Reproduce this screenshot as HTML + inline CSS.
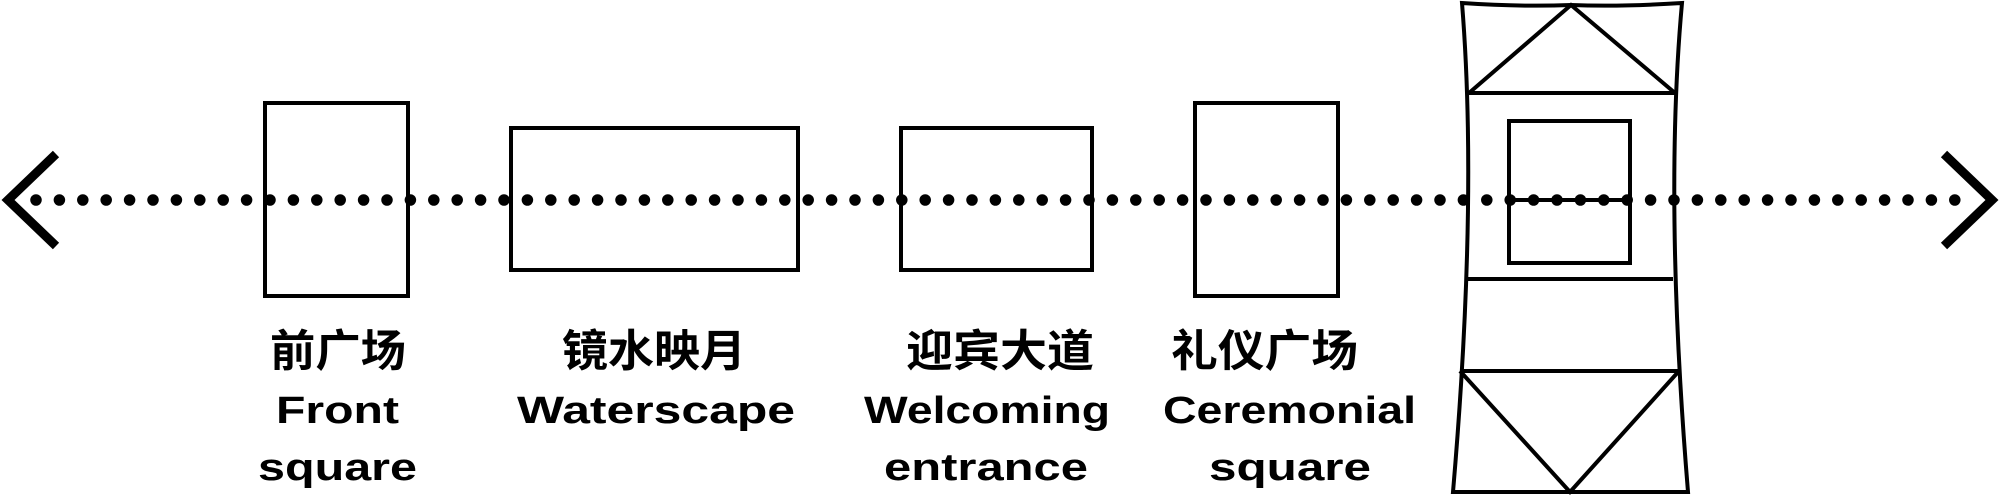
<!DOCTYPE html>
<html><head><meta charset="utf-8"><style>html,body{margin:0;padding:0;background:#fff}svg{display:block}</style></head>
<body>
<svg width="2000" height="496" viewBox="0 0 2000 496" xmlns="http://www.w3.org/2000/svg">
<rect width="2000" height="496" fill="#fff"/>
<line x1="36" y1="200" x2="1975" y2="200" stroke="#000" stroke-width="11.5" stroke-linecap="round" stroke-dasharray="0 23.4"/>
<polyline points="56,154 8,200 56,246" fill="none" stroke="#000" stroke-width="9"/>
<polyline points="1944,154 1992,200 1944,246" fill="none" stroke="#000" stroke-width="9"/>
<g fill="none" stroke="#000" stroke-width="4">
<rect x="265" y="103" width="143" height="193"/>
<rect x="511" y="128" width="287" height="142"/>
<rect x="901" y="128" width="191" height="142"/>
<rect x="1195" y="103" width="143" height="193"/>
<path d="M1462,3 Q1478,200 1453,492 L1688,492 Q1664,200 1682,3 Q1620,7 1571,5 Q1520,7 1462,3 Z"/>
<line x1="1469" y1="93" x2="1675" y2="93"/>
<polyline points="1469,93 1571,5 1675,93"/>
<rect x="1509" y="121" width="121" height="142"/>
<line x1="1468" y1="279" x2="1673" y2="279"/>
<line x1="1460" y1="371" x2="1679" y2="371"/>
<polyline points="1460,371 1570,492 1679,371"/>
<line x1="1509" y1="200" x2="1630" y2="200"/>
</g>
<g font-family="'Liberation Sans','Noto Sans CJK SC',sans-serif" font-weight="bold" fill="#000">
<g font-size="44">
<text x="270" y="366" textLength="136" lengthAdjust="spacingAndGlyphs">前广场</text>
<text x="562" y="366" textLength="184" lengthAdjust="spacingAndGlyphs">镜水映月</text>
<text x="906" y="366" textLength="188" lengthAdjust="spacingAndGlyphs">迎宾大道</text>
<text x="1171" y="366" textLength="187" lengthAdjust="spacingAndGlyphs">礼仪广场</text>
</g>
<g font-size="38">
<text x="276" y="423" textLength="123" lengthAdjust="spacingAndGlyphs">Front</text>
<text x="258" y="480" textLength="159" lengthAdjust="spacingAndGlyphs">square</text>
<text x="517" y="423" textLength="278" lengthAdjust="spacingAndGlyphs">Waterscape</text>
<text x="864" y="423" textLength="246" lengthAdjust="spacingAndGlyphs">Welcoming</text>
<text x="884" y="480" textLength="204" lengthAdjust="spacingAndGlyphs">entrance</text>
<text x="1163" y="423" textLength="253" lengthAdjust="spacingAndGlyphs">Ceremonial</text>
<text x="1209" y="480" textLength="162" lengthAdjust="spacingAndGlyphs">square</text>
</g>
</g>
</svg>
</body></html>
